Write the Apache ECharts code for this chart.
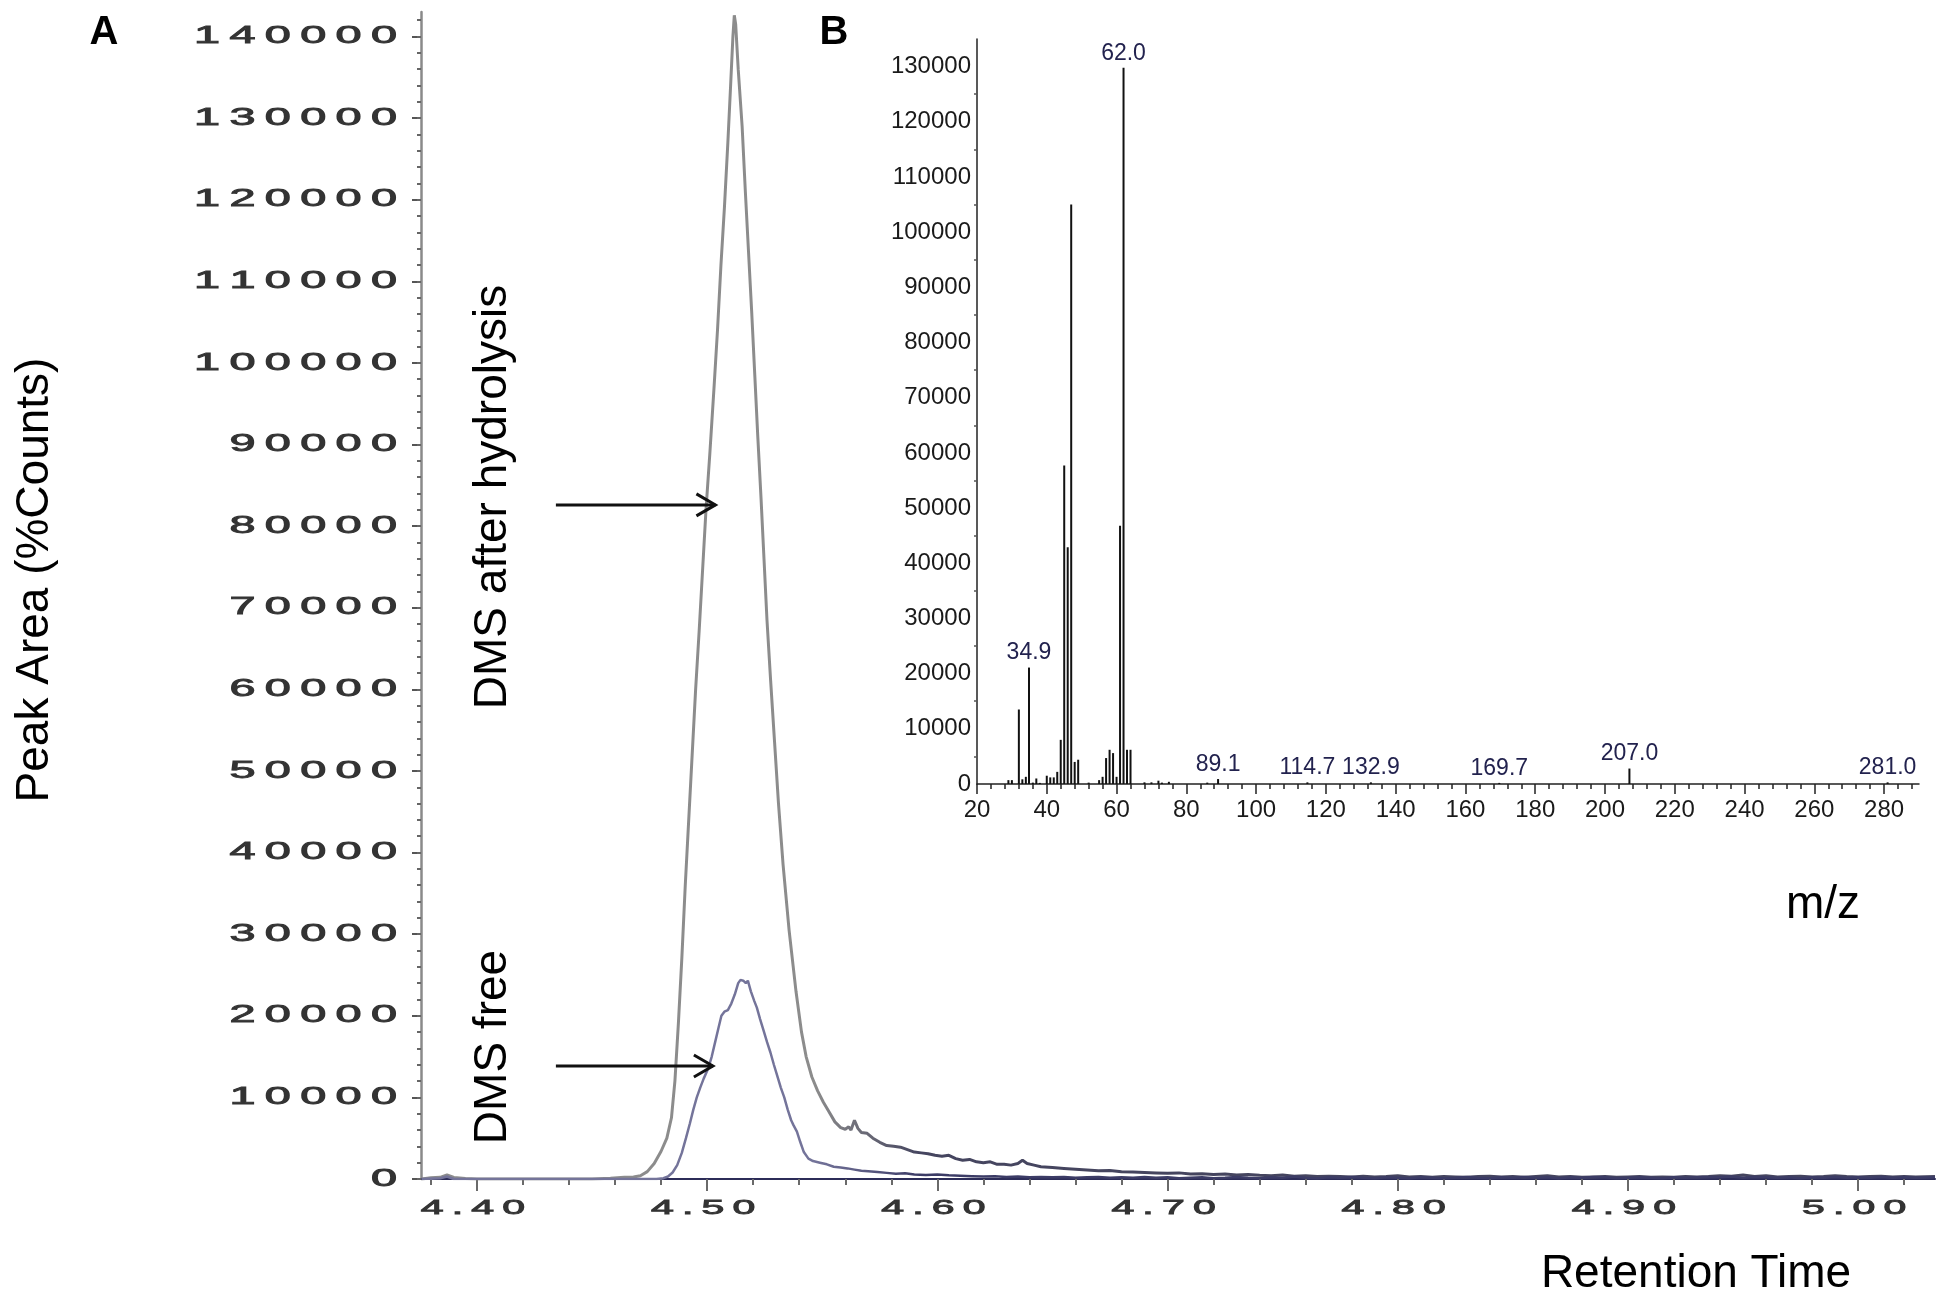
<!DOCTYPE html>
<html><head><meta charset="utf-8">
<script src="https://cdn.jsdelivr.net/npm/echarts@6/dist/echarts.min.js"></script>
<style>html,body{margin:0;padding:0;background:#fff}#c{width:1946px;height:1309px}</style>
</head><body><div id="c"></div>
<script>
// ---------- Panel A: chromatogram (retention time, counts) ----------
const hydrolysisCurve = [
[4.376,0],[4.380,150],[4.384,200],[4.387,500],[4.390,200],[4.395,50],[4.400,0],[4.41,0],[4.42,0],[4.43,0],[4.44,0],[4.45,0],
[4.458,100],[4.464,200],[4.468,250],[4.471,400],[4.474,900],[4.477,1900],[4.480,3400],[4.4825,5000],[4.4845,7500],[4.486,12000],
[4.4875,19000],[4.489,27000],[4.4905,36000],[4.492,44000],[4.4935,52000],[4.495,60000],[4.4965,67000],[4.498,74500],[4.4995,82000],
[4.5012,89000],[4.503,97000],[4.5045,104000],[4.506,112000],[4.5075,119000],[4.509,127000],[4.5102,134000],[4.5112,140000],
[4.5118,142600],[4.5124,141500],[4.5135,136000],[4.5152,129000],[4.5166,121000],[4.518,113500],[4.5194,106000],[4.5207,98500],
[4.522,91000],[4.5234,83500],[4.5247,76000],[4.526,68500],[4.5276,61000],[4.5293,53500],[4.531,46000],[4.533,38500],[4.5356,30500],
[4.5386,23000],[4.541,18000],[4.543,15000],[4.5455,12500],[4.548,10800],[4.5505,9400],[4.553,8200],[4.5555,7000],[4.558,6300],
[4.560,6100],[4.5615,6400],[4.5625,6000],[4.564,7200],[4.5655,6200],[4.567,5700],[4.5695,5600],[4.572,5000],[4.575,4500],
[4.578,4100],[4.581,4000],[4.584,3900],[4.587,3600],[4.590,3300],[4.593,3200],[4.596,3100],[4.599,2900],[4.602,2800],[4.605,2900],
[4.608,2500],[4.611,2300],[4.614,2400],[4.617,2100],[4.620,2000],[4.623,2100],[4.626,1800],[4.629,1800],[4.632,1700],[4.635,1900],
[4.637,2300],[4.639,1900],[4.642,1700],[4.645,1500],[4.650,1400],[4.655,1300],[4.660,1200],[4.665,1100],[4.670,1000],[4.675,1050],
[4.680,900],[4.685,850],[4.690,800],[4.695,750],[4.700,700],[4.705,750],[4.710,600],[4.715,650],[4.720,550],[4.725,600],[4.730,500],
[4.735,550],[4.740,450],[4.745,400],[4.750,500],[4.755,350],[4.760,400],[4.765,300],[4.770,350],[4.775,300],[4.780,250],[4.785,350],
[4.790,250],[4.795,300],[4.800,400],[4.805,250],[4.810,300],[4.815,200],[4.820,300],[4.825,250],[4.830,200],[4.835,300],[4.840,350],
[4.845,250],[4.850,300],[4.855,200],[4.860,300],[4.865,400],[4.870,250],[4.875,300],[4.880,200],[4.885,250],[4.890,300],[4.895,200],
[4.900,250],[4.905,300],[4.910,200],[4.915,250],[4.920,200],[4.925,300],[4.930,250],[4.935,300],[4.940,400],[4.945,350],[4.950,500],
[4.955,300],[4.960,400],[4.965,250],[4.970,300],[4.975,350],[4.980,250],[4.985,300],[4.990,400],[4.995,300],[5.000,250],[5.005,300],
[5.010,350],[5.015,250],[5.020,300],[5.025,250],[5.0334,300]
];
const freeCurve = [
[4.376,0],[4.384,100],[4.387,300],[4.390,0],[4.40,0],[4.42,0],[4.44,0],[4.46,0],[4.47,0],[4.478,0],[4.481,100],[4.483,300],[4.485,800],
[4.487,1700],[4.489,3200],[4.4908,5000],[4.4925,6800],[4.494,8500],[4.4955,10000],[4.497,11200],[4.4985,12300],[4.5004,13500],
[4.502,15000],[4.5035,16800],[4.505,18600],[4.5062,20000],[4.5075,20500],[4.509,20700],[4.5105,21500],[4.512,22600],[4.5135,24000],
[4.5145,24400],[4.5157,24300],[4.5168,24000],[4.5177,24300],[4.519,23000],[4.5205,21800],[4.5216,21000],[4.523,19600],[4.5245,18200],
[4.526,16800],[4.5275,15500],[4.529,14000],[4.5305,12600],[4.532,11200],[4.5335,10000],[4.535,8500],[4.5365,7200],[4.5375,6600],
[4.539,5800],[4.5405,4500],[4.542,3300],[4.544,2500],[4.546,2200],[4.549,2000],[4.552,1800],[4.555,1500],[4.558,1400],[4.561,1300],
[4.564,1150],[4.567,1000],[4.570,950],[4.574,850],[4.578,750],[4.582,650],[4.586,700],[4.590,550],[4.595,500],[4.600,550],[4.605,450],
[4.610,400],[4.615,350],[4.620,300],[4.625,350],[4.630,250],[4.635,300],[4.640,200],[4.645,250],[4.650,200],[4.655,250],[4.660,150],
[4.665,200],[4.670,250],[4.675,150],[4.680,200],[4.685,150],[4.690,250],[4.695,150],[4.700,200],[4.705,100],[4.710,150],[4.715,200],
[4.720,100],[4.725,150],[4.730,250],[4.735,150],[4.740,100],[4.745,200],[4.750,150],[4.755,300],[4.760,150],[4.765,100],[4.770,200],
[4.775,150],[4.780,250],[4.785,150],[4.790,100],[4.795,200],[4.800,150],[4.805,100],[4.810,200],[4.815,150],[4.820,100],[4.825,150],
[4.830,250],[4.835,150],[4.840,100],[4.845,200],[4.850,150],[4.855,250],[4.860,150],[4.865,200],[4.870,100],[4.875,200],[4.880,150],
[4.885,250],[4.890,200],[4.895,100],[4.900,150],[4.905,200],[4.910,150],[4.915,100],[4.920,200],[4.925,150],[4.930,200],[4.935,250],
[4.940,200],[4.945,300],[4.950,150],[4.955,250],[4.960,200],[4.965,150],[4.970,200],[4.975,100],[4.980,200],[4.985,150],[4.990,250],
[4.995,150],[5.000,200],[5.005,150],[5.010,250],[5.015,150],[5.020,200],[5.025,150],[5.0334,200]
];
const rtTickLabels = [4.40, 4.50, 4.60, 4.70, 4.80, 4.90, 5.00];
const countTickLabels = [0,10000,20000,30000,40000,50000,60000,70000,80000,90000,100000,110000,120000,130000,140000];
// annotation arrows [start rt, end rt, counts]
const arrowHydrolysis = [4.4343, 4.5036, 82600];
const arrowFree = [4.4343, 4.5025, 13850];

// ---------- Panel B: mass spectrum ----------
const mzValues = [29,30,32,33,34,34.9,36,37,38,40,41,42,43,44,45,46,47,48,49,52,55,56,57,58,59,60,61,62.0,63,64,68,70,72,73,75,86,89.1,114.7,132.9,169.7,207.0,281.0];
const mzIntensities = [700,700,13500,850,1300,21100,250,1000,200,1500,1200,1200,2200,8000,57700,42900,105000,4000,4400,250,700,1300,4700,6200,5600,1300,46800,129800,6200,6200,300,300,600,250,400,250,900,300,300,200,2800,300];
const labeledMz = [34.9, 62.0, 89.1, 114.7, 132.9, 169.7, 207.0, 281.0];
const mzTickLabels = [20,40,60,80,100,120,140,160,180,200,220,240,260,280];
const intensityTickLabels = [0,10000,20000,30000,40000,50000,60000,70000,80000,90000,100000,110000,120000,130000];

// ---------- helpers ----------
const spaced = s => String(s).split('').join('\u2009');
const stepList = (a, b, s, d) => { const out = []; for (let v = a; v <= b + 1e-9; v += s) out.push(+v.toFixed(d)); return out; };
const rtMinor = stepList(4.38, 5.02, 0.02, 2);
const countMinor = stepList(0, 142000, 2000, 0);
const mzMinor = stepList(20, 288, 4, 0);
const intensityMinor = stepList(5000, 125000, 10000, 0);

const RT_MIN = 4.3757, RT_MAX = 5.0334, CT_MAX = 143000;
const MZ_MIN = 20, MZ_MAX = 290, IN_MAX = 135000;
const arial = 'Liberation Sans, Arial, sans-serif';

const chart = echarts.init(document.getElementById('c'), null, { renderer: 'canvas' });

const lineGrad = (c1, c2, a, b) => ({ type: 'linear', x: 0, y: 0, x2: 1, y2: 0,
  colorStops: [{ offset: 0, color: c1 }, { offset: a, color: c1 }, { offset: b, color: c2 }, { offset: 1, color: c2 }] });

const option = {
  animation: false,
  backgroundColor: '#ffffff',
  grid: [
    { left: 421, right: 11, top: 12, bottom: 130, containLabel: false },
    { left: 977, right: 27, top: 39, bottom: 525, containLabel: false }
  ],
  xAxis: [
    { gridIndex: 0, type: 'value', position: 'bottom', min: RT_MIN, max: RT_MAX,
      axisLine: { onZero: false, lineStyle: { color: '#2c2c58', width: 2 } },
      axisTick: { customValues: rtTickLabels, length: 12, lineStyle: { color: '#6a6a6a', width: 2 } },
      axisLabel: { show: false }, splitLine: { show: false } },
    { gridIndex: 0, type: 'value', position: 'bottom', min: RT_MIN, max: RT_MAX,
      axisLine: { show: false, onZero: false },
      axisTick: { customValues: rtMinor, length: 6, lineStyle: { color: '#6a6a6a', width: 2 } },
      axisLabel: { show: false }, splitLine: { show: false } },
    { gridIndex: 1, type: 'value', position: 'bottom', min: MZ_MIN, max: MZ_MAX,
      axisLine: { onZero: false, lineStyle: { color: '#222', width: 1.5 } },
      axisTick: { customValues: mzTickLabels, length: 10, lineStyle: { color: '#222', width: 1.5 } },
      axisLabel: { customValues: mzTickLabels, margin: 14, fontSize: 24, fontFamily: arial, color: '#1a1a1a' },
      splitLine: { show: false } },
    { gridIndex: 1, type: 'value', position: 'bottom', min: MZ_MIN, max: MZ_MAX,
      axisLine: { show: false, onZero: false },
      axisTick: { customValues: mzMinor, length: 5, lineStyle: { color: '#222', width: 1.5 } },
      axisLabel: { show: false }, splitLine: { show: false } }
  ],
  yAxis: [
    { gridIndex: 0, type: 'value', position: 'left', min: 0, max: CT_MAX,
      axisLine: { onZero: false, lineStyle: { color: '#8a8a8a', width: 2.5 } },
      axisTick: { customValues: countTickLabels, length: 9, lineStyle: { color: '#555', width: 2 } },
      axisLabel: { show: false }, splitLine: { show: false } },
    { gridIndex: 0, type: 'value', position: 'left', min: 0, max: CT_MAX,
      axisLine: { show: false, onZero: false },
      axisTick: { customValues: countMinor, length: 4, lineStyle: { color: '#666', width: 2 } },
      axisLabel: { show: false }, splitLine: { show: false } },
    { gridIndex: 1, type: 'value', position: 'left', min: 0, max: IN_MAX,
      axisLine: { onZero: false, lineStyle: { color: '#222', width: 1.5 } },
      axisTick: { customValues: intensityMinor, length: 3, lineStyle: { color: '#555', width: 1.5 } },
      axisLabel: { customValues: intensityTickLabels, margin: 6, fontSize: 24, fontFamily: arial, color: '#1a1a1a',
        formatter: v => String(v) },
      splitLine: { show: false } }
  ],
  series: [
    { type: 'line', name: 'DMS after hydrolysis', xAxisIndex: 0, yAxisIndex: 0, data: hydrolysisCurve,
      showSymbol: false, symbol: 'none', z: 3,
      lineStyle: { width: 3, color: lineGrad('#8c8c8c', '#45455f', 0.26, 0.33) } },
    { type: 'line', name: 'DMS free', xAxisIndex: 0, yAxisIndex: 0, data: freeCurve,
      showSymbol: false, symbol: 'none', z: 4,
      lineStyle: { width: 2.5, color: lineGrad('#74749a', '#3c3c66', 0.26, 0.33) } },
    { type: 'bar', name: 'spectrum', xAxisIndex: 2, yAxisIndex: 2,
      data: mzValues.map((m, i) => [m, mzIntensities[i]]),
      barWidth: 2, itemStyle: { color: '#111' },
      label: { show: true, position: 'top', distance: 3, fontSize: 23, fontFamily: arial, color: '#22224e',
        formatter: p => labeledMz.indexOf(p.value[0]) >= 0 ? p.value[0].toFixed(1) : '' } }
  ]
};
chart.setOption(option);

function arrowGraphics(a) {
  const p1 = chart.convertToPixel({ xAxisIndex: 0, yAxisIndex: 0 }, [a[0], a[2]]);
  const p2 = chart.convertToPixel({ xAxisIndex: 0, yAxisIndex: 0 }, [a[1], a[2]]);
  return [
    { type: 'line', shape: { x1: p1[0], y1: p1[1], x2: p2[0], y2: p2[1] }, style: { stroke: '#111', lineWidth: 3 }, z: 10 },
    { type: 'polyline', shape: { points: [[p2[0] - 19, p2[1] - 11], [p2[0], p2[1]], [p2[0] - 19, p2[1] + 11]] },
      style: { stroke: '#111', lineWidth: 3, fill: null }, z: 10 }
  ];
}

const txt = (text, x, y, font, rot) => ({ type: 'text', x: x, y: y, rotation: rot || 0, z: 10,
  style: { text: text, font: font, fill: '#000', textAlign: 'center', textVerticalAlign: 'middle' } });

// Panel A tick labels: the instrument's wide digit style, positioned through the axis scales
const axisX0 = chart.convertToPixel({ yAxisIndex: 0 }, 0);
const axisY0 = chart.convertToPixel({ xAxisIndex: 0 }, RT_MIN);
const countLabelGraphics = countTickLabels.map(v => ({
  type: 'text', x: axisY0 - 24, y: chart.convertToPixel({ yAxisIndex: 0 }, v), scaleX: 1.95, z: 5,
  style: { text: spaced(v), font: '24px Liberation Sans', fill: '#333', stroke: '#333', lineWidth: 0.9,
    textAlign: 'right', textVerticalAlign: 'middle' }
}));
const rtLabelGraphics = rtTickLabels.map(v => ({
  type: 'text', x: chart.convertToPixel({ xAxisIndex: 0 }, v) - 4, y: axisX0 + 29, scaleX: 1.95, z: 5,
  style: { text: spaced(v.toFixed(2)), font: '21px Liberation Sans', fill: '#333', stroke: '#333', lineWidth: 0.9,
    textAlign: 'center', textVerticalAlign: 'middle' }
}));

chart.setOption({
  graphic: [
    txt('A', 104, 33, 'bold 40px Liberation Sans'),
    txt('B', 834, 33, 'bold 40px Liberation Sans'),
    txt('Peak Area (%Counts)', 35, 580, '46px Liberation Sans', Math.PI / 2),
    txt('Retention Time', 1696, 1274, '46px Liberation Sans'),
    txt('m/z', 1823, 905, '46px Liberation Sans'),
    txt('DMS after hydrolysis', 493, 497, '46px Liberation Sans', Math.PI / 2),
    txt('DMS free', 493, 1047, '46px Liberation Sans', Math.PI / 2)
  ].concat(arrowGraphics(arrowHydrolysis), arrowGraphics(arrowFree), countLabelGraphics, rtLabelGraphics)
});
</script>
</body></html>
